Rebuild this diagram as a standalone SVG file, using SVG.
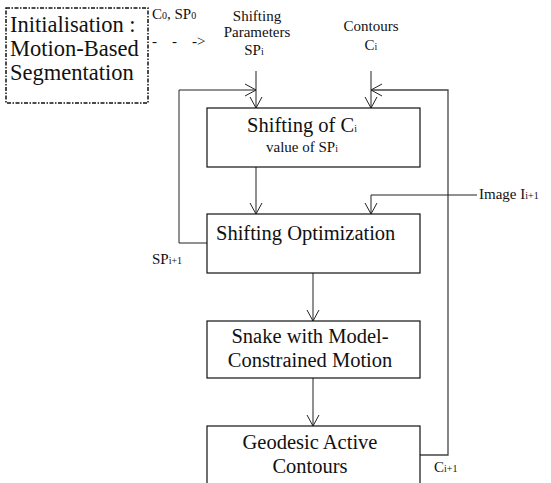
<svg xmlns="http://www.w3.org/2000/svg" width="551" height="483" viewBox="0 0 551 483" font-family="'Liberation Serif', 'Times New Roman', 'DejaVu Serif', serif">
<style>
text{font-family:'Liberation Serif','Times New Roman','DejaVu Serif',serif;fill:#111}
.big{font-size:20.5px}
.lbl{font-size:15px}
.sub{font-size:10px}
.box{fill:#fff;stroke:#111;stroke-width:1.2}
.ln{fill:none;stroke:#222;stroke-width:1}
.fb{fill:none;stroke:#444;stroke-width:1.3}
</style>
<defs>
<marker id="ah" markerUnits="userSpaceOnUse" markerWidth="14" markerHeight="14" refX="12" refY="7" orient="auto" viewBox="0 0 14 14">
<path d="M1,1 L12,7 L1,13" fill="none" stroke="#222" stroke-width="1"/>
</marker>
</defs>
<g id="init">
<rect x="6" y="8" width="142" height="95" fill="none" stroke="#111" stroke-width="1.5" stroke-dasharray="4,1.5,1.5,1.5"/>
<text x="10" y="32" font-size="22.5">Initialisation :</text>
<text x="10" y="56" font-size="22.5">Motion-Based</text>
<text x="10" y="80" font-size="22.5">Segmentation</text>
</g>
<g id="labels">
<text x="152" y="19" class="lbl">C<tspan class="sub">0</tspan>, SP<tspan class="sub">0</tspan></text>
<text x="152" y="46" class="lbl" xml:space="preserve">-    -    -&gt;</text>
<text x="257" y="21" class="lbl" text-anchor="middle">Shifting</text>
<text x="257" y="37" class="lbl" text-anchor="middle">Parameters</text>
<text x="254" y="55" class="lbl" text-anchor="middle">SP<tspan class="sub">i</tspan></text>
<text x="371" y="31" class="lbl" text-anchor="middle">Contours</text>
<text x="371" y="50" class="lbl" text-anchor="middle">C<tspan class="sub">i</tspan></text>
<text x="479" y="199" class="lbl">Image I<tspan class="sub">i+1</tspan></text>
<text x="152" y="264" class="lbl">SP<tspan class="sub">i+1</tspan></text>
<text x="434" y="472" class="lbl">C<tspan class="sub">i+1</tspan></text>
</g>
<g id="connectors">
<path class="ln" d="M256,71 L256,108" marker-end="url(#ah)"/>
<path class="ln" d="M207,243 L179,243 L179,90 L256,90" marker-end="url(#ah)"/>
<path class="ln" d="M371,71 L371,108" marker-end="url(#ah)"/>
<path class="fb" d="M420,455 L448,455 L448,90 L371,90" marker-end="url(#ah)"/>
<path class="ln" d="M256,167 L256,214" marker-end="url(#ah)"/>
<path class="ln" d="M477,195 L371,195 L371,214" marker-end="url(#ah)"/>
<path class="ln" d="M313,273 L313,321" marker-end="url(#ah)"/>
<path class="ln" d="M313,378 L313,426" marker-end="url(#ah)"/>
</g>
<g id="shifting">
<rect class="box" x="207" y="108" width="213" height="59"/>
<text x="302" y="132" class="big" text-anchor="middle">Shifting of C<tspan class="sub" font-size="12">i</tspan></text>
<text x="302" y="152" class="lbl" text-anchor="middle">value of SP<tspan class="sub">i</tspan></text>
</g>
<g id="optimization">
<rect class="box" x="207" y="214" width="213" height="59"/>
<text x="216" y="240" class="big">Shifting Optimization</text>
</g>
<g id="snake">
<rect class="box" x="207" y="321" width="213" height="57"/>
<text x="310" y="343" class="big" text-anchor="middle">Snake with Model-</text>
<text x="310" y="367" class="big" text-anchor="middle">Constrained Motion</text>
</g>
<g id="geodesic">
<rect class="box" x="207" y="426" width="213" height="70"/>
<text x="310" y="449" class="big" text-anchor="middle">Geodesic Active</text>
<text x="310" y="473" class="big" text-anchor="middle">Contours</text>
</g>
</svg>
